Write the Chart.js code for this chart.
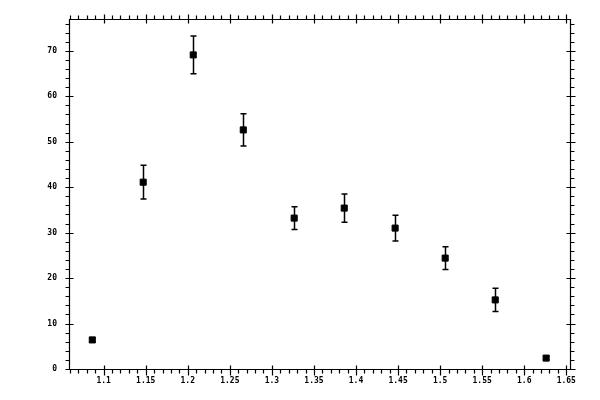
<!DOCTYPE html>
<html>
<head>
<meta charset="utf-8">
<script src="https://cdn.jsdelivr.net/npm/chart.js@4"></script>
<style>
  html, body { margin: 0; padding: 0; background: #fff; }
  #wrap { width: 600px; height: 400px; }
</style>
</head>
<body>
<div id="wrap"><canvas id="errChart" width="600" height="400"></canvas></div>
<script>
// measured points
var xValues = [1.0865, 1.147, 1.2065, 1.266, 1.3265, 1.386, 1.4465, 1.506, 1.5655, 1.626];
var yValues = [6.4, 41.1, 69.1, 52.6, 33.2, 35.4, 31.0, 24.4, 15.2, 2.4];
var yErrors = [0.5, 3.7, 4.15, 3.55, 2.5, 3.1, 2.85, 2.5, 2.55, 0.4];

// axis ticks
var xTicks = [1.1, 1.15, 1.2, 1.25, 1.3, 1.35, 1.4, 1.45, 1.5, 1.55, 1.6, 1.65];
var xMinorTicks = [];
for (var i = 106; i <= 165; i++) xMinorTicks.push(i / 100);
var yTicks = [0, 10, 20, 30, 40, 50, 60, 70];
var yMinorTicks = [];
for (var j = 0; j <= 76; j += 2) yMinorTicks.push(j);

var points = xValues.map(function (x, k) {
    return { x: x, y: yValues[k] };
});

// error bars + frame with inner/outer tick marks
var framePlugin = {
    id: 'frame',
    afterDatasetsDraw: function (chart) {
        var ctx = chart.ctx;
        var a = chart.chartArea;
        var xs = chart.scales.x, ys = chart.scales.y;
        ctx.save();
        ctx.strokeStyle = '#000';

        // error bars
        ctx.lineWidth = 1.5;
        xValues.forEach(function (x, k) {
            var px = Math.round(xs.getPixelForValue(x)) + 0.5;
            var top = ys.getPixelForValue(yValues[k] + yErrors[k]);
            var bot = ys.getPixelForValue(yValues[k] - yErrors[k]);
            ctx.beginPath();
            ctx.moveTo(px, top); ctx.lineTo(px, bot);
            ctx.moveTo(px - 3, top); ctx.lineTo(px + 3, top);
            ctx.moveTo(px - 3, bot); ctx.lineTo(px + 3, bot);
            ctx.stroke();
        });

        // frame
        ctx.lineWidth = 1.2;
        var L = Math.round(a.left) + 0.5, R = Math.round(a.right) + 0.5;
        var T = Math.round(a.top) + 0.5, B = Math.round(a.bottom) + 0.5;
        ctx.beginPath();
        ctx.rect(L, T, R - L, B - T);
        ctx.stroke();

        ctx.beginPath();
        xMinorTicks.forEach(function (v) {
            var p = Math.round(xs.getPixelForValue(v)) + 0.5;
            ctx.moveTo(p, B); ctx.lineTo(p, B + 4);
            ctx.moveTo(p, T); ctx.lineTo(p, T - 4);
        });
        xTicks.forEach(function (v) {
            var p = Math.round(xs.getPixelForValue(v)) + 0.5;
            ctx.moveTo(p, B - 4); ctx.lineTo(p, B + 6);
            ctx.moveTo(p, T + 4); ctx.lineTo(p, T - 5);
        });
        yMinorTicks.forEach(function (v) {
            var p = Math.round(ys.getPixelForValue(v)) + 0.5;
            ctx.moveTo(L, p); ctx.lineTo(L - 4, p);
            ctx.moveTo(R, p); ctx.lineTo(R + 4, p);
        });
        yTicks.forEach(function (v) {
            var p = Math.round(ys.getPixelForValue(v)) + 0.5;
            ctx.moveTo(L - 4, p); ctx.lineTo(L + 4, p);
            ctx.moveTo(R - 4, p); ctx.lineTo(R + 5, p);
        });
        ctx.stroke();
        ctx.restore();
    }
};

var tickFont = { family: 'DejaVu Sans Mono', size: 8, weight: 'bold' };

var ctx = document.getElementById('errChart').getContext('2d');
var chart = new Chart(ctx, {
    type: 'scatter',
    data: {
        datasets: [{
            label: 'data',
            data: points,
            pointStyle: 'rect',
            pointRadius: 4.3,
            pointHoverRadius: 4.3,
            backgroundColor: '#000',
            borderColor: '#000',
            borderWidth: 1
        }]
    },
    options: {
        responsive: false,
        animation: false,
        devicePixelRatio: 1,
        layout: { padding: { top: 19, right: 30, left: 0, bottom: 0 } },
        plugins: {
            legend: { display: false },
            tooltip: { enabled: false }
        },
        scales: {
            x: {
                type: 'linear',
                min: 1.0588,
                max: 1.6544,
                afterBuildTicks: function (s) {
                    s.ticks = xTicks.map(function (v) { return { value: v }; });
                },
                afterFit: function (s) { s.height = 31; },
                grid: { display: false, drawTicks: false },
                border: { display: false },
                ticks: {
                    color: '#000',
                    font: tickFont,
                    padding: 7,
                    maxRotation: 0,
                    autoSkip: false,
                    callback: function (v) { return String(Math.round(v * 100) / 100); }
                }
            },
            y: {
                type: 'linear',
                min: 0,
                max: 77,
                afterBuildTicks: function (s) {
                    s.ticks = yTicks.map(function (v) { return { value: v }; });
                },
                afterFit: function (s) { s.width = 69; },
                grid: { display: false, drawTicks: false },
                border: { display: false },
                ticks: {
                    color: '#000',
                    font: tickFont,
                    padding: 12,
                    autoSkip: false
                }
            }
        }
    },
    plugins: [framePlugin]
});
</script>
</body>
</html>
